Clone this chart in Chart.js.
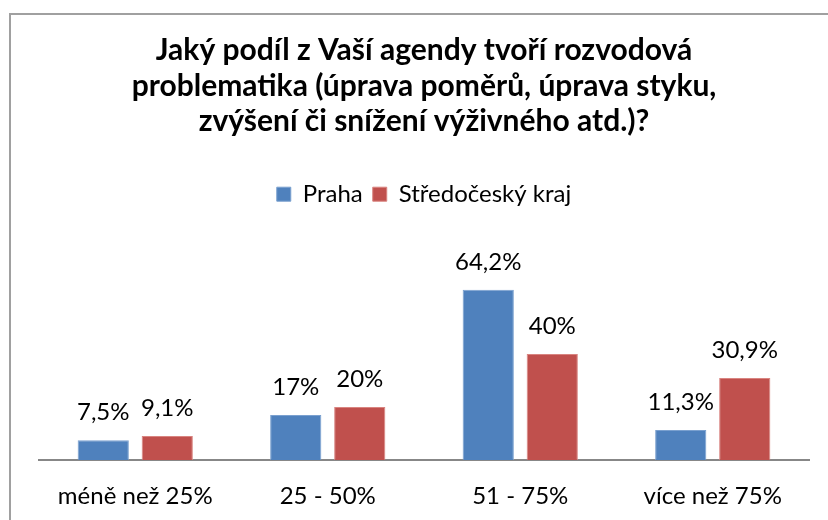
<!DOCTYPE html>
<html lang="cs">
<head>
  <meta charset="UTF-8" />
  <title>Rozvodová problematika</title>
  <style>
    body {
      margin: 0;
      background: #ffffff;
      width: 828px;
      height: 520px;
      overflow: hidden;
      position: relative;
    }
    .frame {
      position: absolute;
      left: 9px;
      top: 13px;
      width: 900px;
      height: 600px;
      border-left: 2px solid #a0a0a0;
      border-top: 2px solid #a0a0a0;
    }
    #chart {
      position: absolute;
      left: 0;
      top: 0;
    }
  </style>
</head>
<body>
  <div class="frame"></div>
  <canvas id="chart" width="828" height="520"></canvas>

  <script src="https://cdn.jsdelivr.net/npm/chart.js"></script>
  <script>
const categories = ["méně než 25%", "25 - 50%", "51 - 75%", "více než 75%"];
const praha = [7.5, 17, 64.2, 11.3];
const stredocesky = [9.1, 20, 40, 30.9];

const titleLines = [
  "Jaký podíl z Vaší agendy tvoří rozvodová",
  "problematika (úprava poměrů, úprava styku,",
  "zvýšení či snížení výživného atd.)?"
];

const FONT = "Lato, 'Open Sans', sans-serif";

// popisky hodnot nad sloupci
const valueLabels = {
  id: "valueLabels",
  afterDatasetsDraw(chart) {
    const ctx = chart.ctx;
    ctx.save();
    ctx.font = "24px " + FONT;
    ctx.fillStyle = "#000";
    ctx.textAlign = "center";
    ctx.textBaseline = "alphabetic";
    chart.data.datasets.forEach((ds, i) => {
      chart.getDatasetMeta(i).data.forEach((bar, j) => {
        const txt = String(ds.data[j]).replace(".", ",") + "%";
        ctx.fillText(txt, bar.x, bar.y - 20);
      });
    });
    ctx.restore();
  }
};

new Chart(document.getElementById("chart"), {
  type: "bar",
  data: {
    labels: categories,
    datasets: [
      {
        label: "Praha",
        data: praha,
        backgroundColor: "#4F81BD",
        borderColor: "#7aa0cf",
        borderWidth: 1,
        categoryPercentage: 0.665,
        barPercentage: 0.8
      },
      {
        label: "Středočeský kraj",
        data: stredocesky,
        backgroundColor: "#C0504D",
        borderColor: "#d98480",
        borderWidth: 1,
        categoryPercentage: 0.665,
        barPercentage: 0.8
      }
    ]
  },
  options: {
    responsive: false,
    animation: false,
    devicePixelRatio: 1,
    layout: { padding: { left: 39, right: 19, top: 0, bottom: 0 } },
    plugins: {
      title: {
        display: true,
        text: titleLines,
        color: "#000",
        font: { family: FONT, size: 30, weight: "bold", lineHeight: 1.18 },
        padding: { top: 33, bottom: 33 }
      },
      legend: {
        position: "top",
        labels: {
          color: "#000",
          font: { family: FONT, size: 24 },
          boxWidth: 14,
          boxHeight: 14,
          padding: 10
        }
      },
      tooltip: { enabled: false }
    },
    scales: {
      x: {
        grid: { display: false, drawTicks: false },
        border: { display: true, color: "#878787", width: 2 },
        ticks: { color: "#000", font: { family: FONT, size: 24 }, padding: 22 },
        afterFit(scale) { scale.height = 60; }
      },
      y: {
        display: false,
        min: 0,
        max: 92
      }
    }
  },
  plugins: [valueLabels]
});
  </script>
</body>
</html>
